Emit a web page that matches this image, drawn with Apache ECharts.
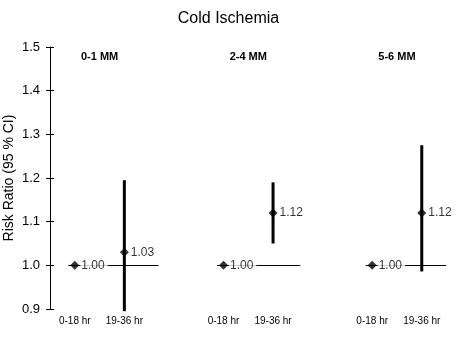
<!DOCTYPE html>
<html><head><meta charset="utf-8">
<script src="https://cdn.jsdelivr.net/npm/echarts@6/dist/echarts.min.js"></script>
<style>html,body{margin:0;padding:0;background:#fff}#c{width:457px;height:345px}</style>
</head><body><div id="c"></div>
<script>
// ---- data ----
const groups = ['0-1 MM', '2-4 MM', '5-6 MM'];
const periods = ['0-18 hr', '19-36 hr'];
const refValues = [1.00, 1.00, 1.00];      // 0-18 hr (reference)
const estValues = [1.03, 1.12, 1.12];      // 19-36 hr
const ciLower = [0.895, 1.05, 0.986];
const ciUpper = [1.195, 1.19, 1.275];
const yTickValues = [0.9, 1.0, 1.1, 1.2, 1.3, 1.4, 1.5];
const titleText = 'Cold Ischemia';
const yAxisTitle = 'Risk Ratio (95 % CI)';

// ---- layout helpers (positions on hidden x scale) ----
const refX = g => 1 + 3 * g;
const estX = g => 2 + 3 * g;
const refLineTail = [0.69, 0.55, 0.49];
const FONT = '"Liberation Sans", Arial, sans-serif';

const refData = refValues.map((v, g) => [refX(g), v]);
const estData = estValues.map((v, g) => [estX(g), v]);
const ciData = estValues.map((v, g) => [estX(g), ciLower[g], ciUpper[g]]);
const lineData = refValues.map((v, g) => [refX(g) - 0.13, estX(g) + refLineTail[g], v]);
const groupData = groups.map((name, g) => [(refX(g) + estX(g)) / 2, yTickValues[yTickValues.length - 1], name]);
const xLabelValues = [];
const xLabelMap = {};
groups.forEach((n, g) => { xLabelValues.push(refX(g), estX(g)); xLabelMap[refX(g)] = periods[0]; xLabelMap[estX(g)] = periods[1]; });

const chart = echarts.init(document.getElementById('c'), null, {renderer: 'canvas'});
chart.setOption({
  animation: false,
  backgroundColor: '#fff',
  title: {
    text: titleText, left: 'center', top: 6,
    textStyle: {fontFamily: FONT, fontSize: 16, fontWeight: 'normal', color: '#000'}
  },
  grid: {left: 50, right: 5.5, top: 47, bottom: 36, containLabel: false, outerBoundsMode: 'none'},
  xAxis: {
    type: 'value', min: 0.5, max: 8.6,
    axisLine: {show: false}, axisTick: {show: false}, splitLine: {show: false},
    axisLabel: {
      customValues: xLabelValues, margin: 7,
      formatter: v => xLabelMap[v] || '',
      fontFamily: FONT, fontSize: 10, color: '#000'
    }
  },
  yAxis: [{
    type: 'value', min: 0.9, max: 1.5, interval: 0.1,
    name: yAxisTitle, nameLocation: 'middle', nameGap: 34, nameMoveOverlap: false,
    nameTextStyle: {fontFamily: FONT, fontSize: 14, color: '#000'},
    axisLine: {show: true, lineStyle: {color: '#000', width: 1}},
    axisTick: {show: true, length: 4, lineStyle: {color: '#000'}},
    axisLabel: {formatter: v => v.toFixed(1), fontFamily: FONT, fontSize: 13, color: '#000', margin: 10},
    splitLine: {show: false}
  }, {
    type: 'value', min: 0.9, max: 1.5, interval: 0.1, position: 'left',
    axisLine: {show: false},
    axisTick: {show: true, inside: true, length: 4, lineStyle: {color: '#000'}},
    axisLabel: {show: false}, splitLine: {show: false}
  }],
  series: [
    {
      type: 'custom', z: 1, silent: true,
      data: lineData,
      renderItem: (params, api) => {
        const a = api.coord([api.value(0), api.value(2)]);
        const b = api.coord([api.value(1), api.value(2)]);
        return {type: 'line', shape: {x1: a[0], y1: Math.round(a[1]) + 0.5, x2: b[0], y2: Math.round(b[1]) + 0.5},
          style: {stroke: '#000', lineWidth: 1}};
      }
    },
    {
      type: 'custom', z: 2, silent: true, clip: false,
      data: ciData,
      renderItem: (params, api) => {
        const lo = api.coord([api.value(0), api.value(1)]);
        const hi = api.coord([api.value(0), api.value(2)]);
        return {type: 'line', shape: {x1: lo[0], y1: lo[1], x2: hi[0], y2: hi[1]},
          style: {stroke: '#000', lineWidth: 3}};
      }
    },
    {
      type: 'scatter', z: 3, symbol: 'diamond', symbolSize: 9,
      itemStyle: {color: '#000'},
      data: refData,
      label: {
        show: true, position: 'right', distance: 1,
        formatter: p => p.value[1].toFixed(2),
        fontFamily: FONT, fontSize: 12, color: '#000',
        backgroundColor: '#fff', padding: [1, 3, 1, 1]
      }
    },
    {
      type: 'scatter', z: 3, symbol: 'diamond', symbolSize: 9,
      itemStyle: {color: '#000'},
      data: estData,
      label: {
        show: true, position: 'right', distance: 2,
        formatter: p => p.value[1].toFixed(2),
        fontFamily: FONT, fontSize: 12, color: '#000'
      }
    },
    {
      type: 'custom', z: 3, silent: true,
      data: groupData,
      renderItem: (params, api) => {
        const p = api.coord([api.value(0), api.value(1)]);
        return {type: 'text', x: p[0], y: p[1] + 10,
          style: {text: groups[params.dataIndex], fontFamily: FONT, fontSize: 11, fontWeight: 'bold',
            fill: '#000', align: 'center', verticalAlign: 'middle'}};
      }
    }
  ]
});
</script>
</body></html>
